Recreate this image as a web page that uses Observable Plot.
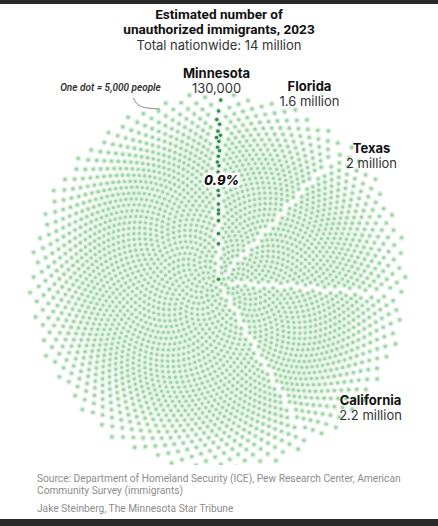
<!DOCTYPE html>
<html>
<head>
<meta charset="utf-8">
<script src="https://cdn.jsdelivr.net/npm/d3@7"></script>
<script src="https://cdn.jsdelivr.net/npm/@observablehq/plot@0.6"></script>
<style>
  html, body { margin: 0; padding: 0; background: #fff; }
  body { width: 438px; height: 526px; position: relative; overflow: hidden; font-family: Inter, "Noto Sans", sans-serif; }
  .bar { position: absolute; left: 0; width: 438px; background: #2a2a2a; }
  #head { position: absolute; top: 7px; left: 0; width: 438px; text-align: center; color: #111; }
  #head .t { font: 700 13.6px/15px Roboto, sans-serif; }
  #head .s { font: 400 13px/14px Inter, sans-serif; color: #333; margin-top: 1px; }
  #chart { position: absolute; top: 60px; left: 0; }
  #cap { position: absolute; top: 473px; left: 37px; width: 380px; font: 400 10.2px/12px Roboto, sans-serif; color: #8c8c8c; }
  #cap .a { margin-top: 6px; }
</style>
</head>
<body>
<div class="bar" style="top:0;height:4px"></div>
<div id="head">
  <div class="t">Estimated number of<br>unauthorized immigrants, 2023</div>
  <div class="s">Total nationwide: 14 million</div>
</div>
<div id="chart"></div>
<div id="cap">
  <div>Source: Department of Homeland Security (ICE), Pew Research Center, American Community Survey (immigrants)</div>
  <div class="a">Jake Steinberg, The Minnesota Star Tribune</div>
</div>
<div class="bar" style="top:519px;height:7px"></div>
<script>
// ---- data ----
const states = ["Minnesota", "Florida", "Texas", "California"];
const immigrants = [130000, 1600000, 2000000, 2200000];
const valueLabels = ["130,000", "1.6 million", "2 million", "2.2 million"];
const total = 14000000;
const perDot = 5000;
// label anchor positions (chart units, centre of circle = 0,0, y up)
const labelX = [-2, 91, 153, 152];
const labelY = [208, 195, 133, -119];

// ---- layout of dots (sunflower with radial falloff, split into wedges) ----
const groups = states.concat(["Other"]);
const counts = immigrants.map(v => Math.round(v / perDot));
counts.push(Math.round(total / perDot) - d3.sum(counts));
const N = d3.sum(counts);

const R = 189, r1 = 128, kEdge = 0.2, gapHalf = 2.0;
const dens = r => r < r1 ? 1 : 1 - (1 - kEdge) * (r - r1) / (R - r1);
const dr = 0.05, rs = [0], cum = [0];
for (let r = dr; r <= R + 1e-9; r += dr) {
  rs.push(r);
  cum.push(cum[cum.length - 1] + 2 * Math.PI * r * dens(r) * dr);
}
const scaleC = N / cum[cum.length - 1];
const GA = Math.PI * (3 - Math.sqrt(5));
const raw = [];
let j = 0;
for (let i = 0; i < N; i++) {
  const target = (i + 0.5) / scaleC;
  while (j < cum.length - 1 && cum[j + 1] < target) j++;
  const f = (target - cum[j]) / (cum[j + 1] - cum[j]);
  const r = rs[j] + f * dr;
  raw.push({r, theta: i * GA});
}
const TAU = 2 * Math.PI;
const aStart = -counts[0] / N * Math.PI; // Minnesota centred on the vertical
raw.forEach(p => { p.phi = (((p.theta - aStart) % TAU) + TAU) % TAU; });
raw.sort((a, b) => a.phi - b.phi);
let idx = 0;
const bounds = [0];
groups.forEach((g, k) => {
  for (let c = 0; c < counts[k]; c++) raw[idx++].group = g;
  if (k < groups.length - 1) bounds.push((raw[idx - 1].phi + raw[idx].phi) / 2);
});
bounds.push(TAU);
const points = raw.map(p => {
  const k = groups.indexOf(p.group);
  const a0 = bounds[k], a1 = bounds[k + 1], al = a1 - a0;
  const m = Math.min(al / 2, Math.asin(Math.min(1, gapHalf / Math.max(p.r, 1e-6))));
  const phi2 = a0 + m + (p.phi - a0) * (al - 2 * m) / al;
  const th = phi2 + aStart;
  return {group: p.group, x: p.r * Math.sin(th), y: p.r * Math.cos(th)};
});

const labels = states.map((s, i) => ({name: s, value: valueLabels[i], x: labelX[i], y: labelY[i]}));
const pct = d3.format(".1%")(immigrants[0] / total);
const leader = [{x: -85, y: 183}, {x: -80, y: 176.5}, {x: -71, y: 173.5}, {x: -59, y: 172.5}];

const chart = Plot.plot({
  width: 438,
  height: 405,
  margin: 0,
  x: {domain: [-218, 220], axis: null},
  y: {domain: [-184, 221], axis: null},
  marks: [
    Plot.dot(points, {x: "x", y: "y", r: 3.1, fill: "#ddf2df"}),
    Plot.dot(points.filter(d => d.group !== "Minnesota"), {x: "x", y: "y", r: 1.6, fill: "#a0d1a8"}),
    Plot.dot(points.filter(d => d.group === "Minnesota"), {x: "x", y: "y", r: 1.8, fill: "#318f49"}),
    Plot.text([pct], {x: 3, y: 101, text: d => d, fontSize: 13, fontWeight: 800, fontStyle: "italic", fill: "#111", stroke: "white", strokeWidth: 5, fontFamily: "Inter"}),
    Plot.text(labels, {x: "x", y: "y", text: "name", fontSize: 13, fontWeight: 700, fill: "#111", fontFamily: "Inter"}),
    Plot.text(labels, {x: "x", y: d => d.y - 15, text: "value", fontSize: 13, fontWeight: 400, fill: "#333", fontFamily: "Inter"}),
    Plot.text(["One dot = 5,000 people"], {x: -108, y: 194, text: d => d, fontSize: 10, fontWeight: 600, fontStyle: "italic", fill: "#333", fontFamily: "Roboto"}),
    Plot.line(leader, {x: "x", y: "y", curve: "natural", stroke: "#8a8a8a", strokeWidth: 1})
  ]
});
document.getElementById("chart").appendChild(chart);
</script>
</body>
</html>
